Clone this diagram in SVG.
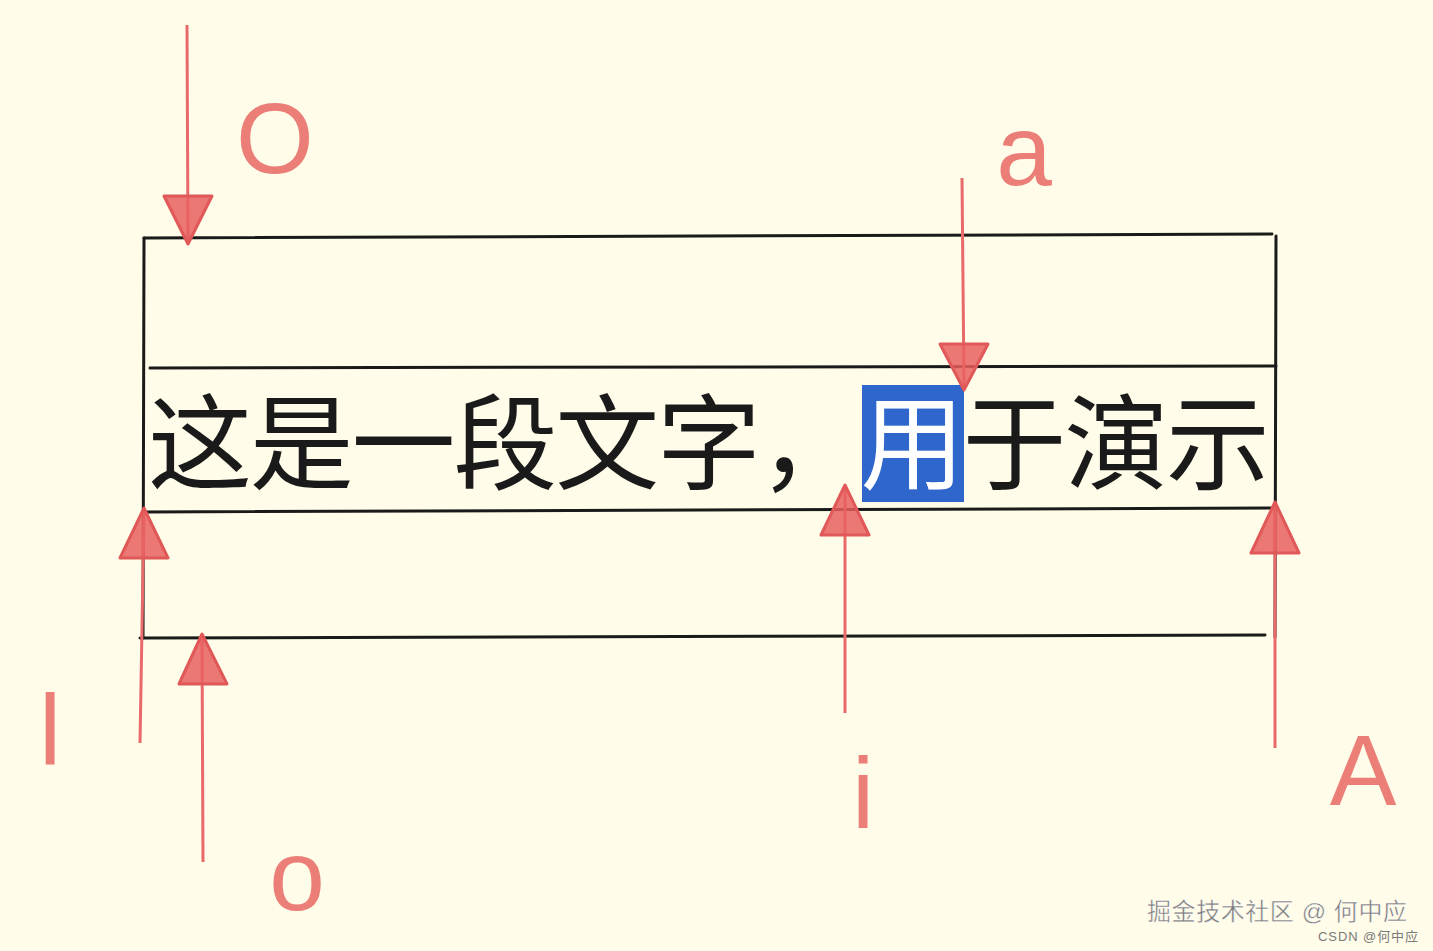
<svg xmlns="http://www.w3.org/2000/svg" width="1433" height="951" viewBox="0 0 1433 951">
<style>
.ln{stroke:#1a1a1a;stroke-width:3;fill:none;stroke-linecap:round}
.ar{stroke:#e86a6a;stroke-width:3;fill:none}
.hd{fill:#e8605f;fill-opacity:0.85;stroke:#e05858;stroke-width:3;stroke-linejoin:round}
.lb{font-family:"Liberation Sans",Arial,sans-serif;font-size:100px;fill:#eb7f78}
.cn{font-family:"Noto Sans CJK SC",sans-serif;font-size:104px;fill:#1a1a1a}
.wm{font-family:"Liberation Sans","Noto Sans CJK SC",sans-serif;fill:#7a7a7a}
</style>
<rect width="1433" height="951" fill="#fffce9"/>
<g id="box">
<line class="ln" x1="144" y1="238" x2="1272" y2="234"/>
<line class="ln" x1="150" y1="368" x2="1276" y2="366"/>
<line class="ln" x1="145" y1="512" x2="1276" y2="508"/>
<line class="ln" x1="140" y1="638" x2="1265" y2="635"/>
<line class="ln" x1="144" y1="238" x2="143" y2="638"/>
<line class="ln" x1="1276" y1="236" x2="1275" y2="637"/>
</g>
<g id="text">
<rect x="862" y="385" width="102" height="117" fill="#2f66cc"/>
<text class="cn" x="148" y="482" textLength="1122" lengthAdjust="spacing">这是一段文字，<tspan fill="#ffffff">用</tspan>于演示</text>
</g>
<g id="connectors">
<line class="ar" x1="187" y1="25" x2="188" y2="240"/>
<path class="hd" d="M164,196 L212,196 L188,244 Z"/>
<line class="ar" x1="962" y1="178" x2="964" y2="386"/>
<path class="hd" d="M940,344 L988,344 L964,390 Z"/>
<line class="ar" x1="140" y1="743" x2="144" y2="512"/>
<path class="hd" d="M144,508 L168,558 L120,558 Z"/>
<line class="ar" x1="203" y1="862" x2="202" y2="638"/>
<path class="hd" d="M202,634 L227,684 L179,684 Z"/>
<line class="ar" x1="845" y1="713" x2="845" y2="489"/>
<path class="hd" d="M845,485 L869,535 L821,535 Z"/>
<line class="ar" x1="1275" y1="748" x2="1275" y2="506"/>
<path class="hd" d="M1275,502 L1299,553 L1251,553 Z"/>
</g>
<g id="labels">
<text class="lb" x="275" y="173" text-anchor="middle">O</text>
<text class="lb" x="1024" y="185" text-anchor="middle">a</text>
<text class="lb" x="50" y="765" text-anchor="middle">l</text>
<text class="lb" x="297" y="910" text-anchor="middle">o</text>
<text class="lb" x="863" y="828" text-anchor="middle">i</text>
<text class="lb" x="1363" y="805" text-anchor="middle">A</text>
</g>
<g id="watermark">
<text class="wm" x="1147" y="920" font-size="24" fill="#6e6e6e" stroke="#ffffff" stroke-width="0.4" textLength="260" lengthAdjust="spacing">掘金技术社区 @ 何中应</text>
<text class="wm" x="1318" y="941" font-size="13" fill="#9a9a9a" textLength="100" lengthAdjust="spacing">CSDN @何中应</text>
</g>
</svg>
